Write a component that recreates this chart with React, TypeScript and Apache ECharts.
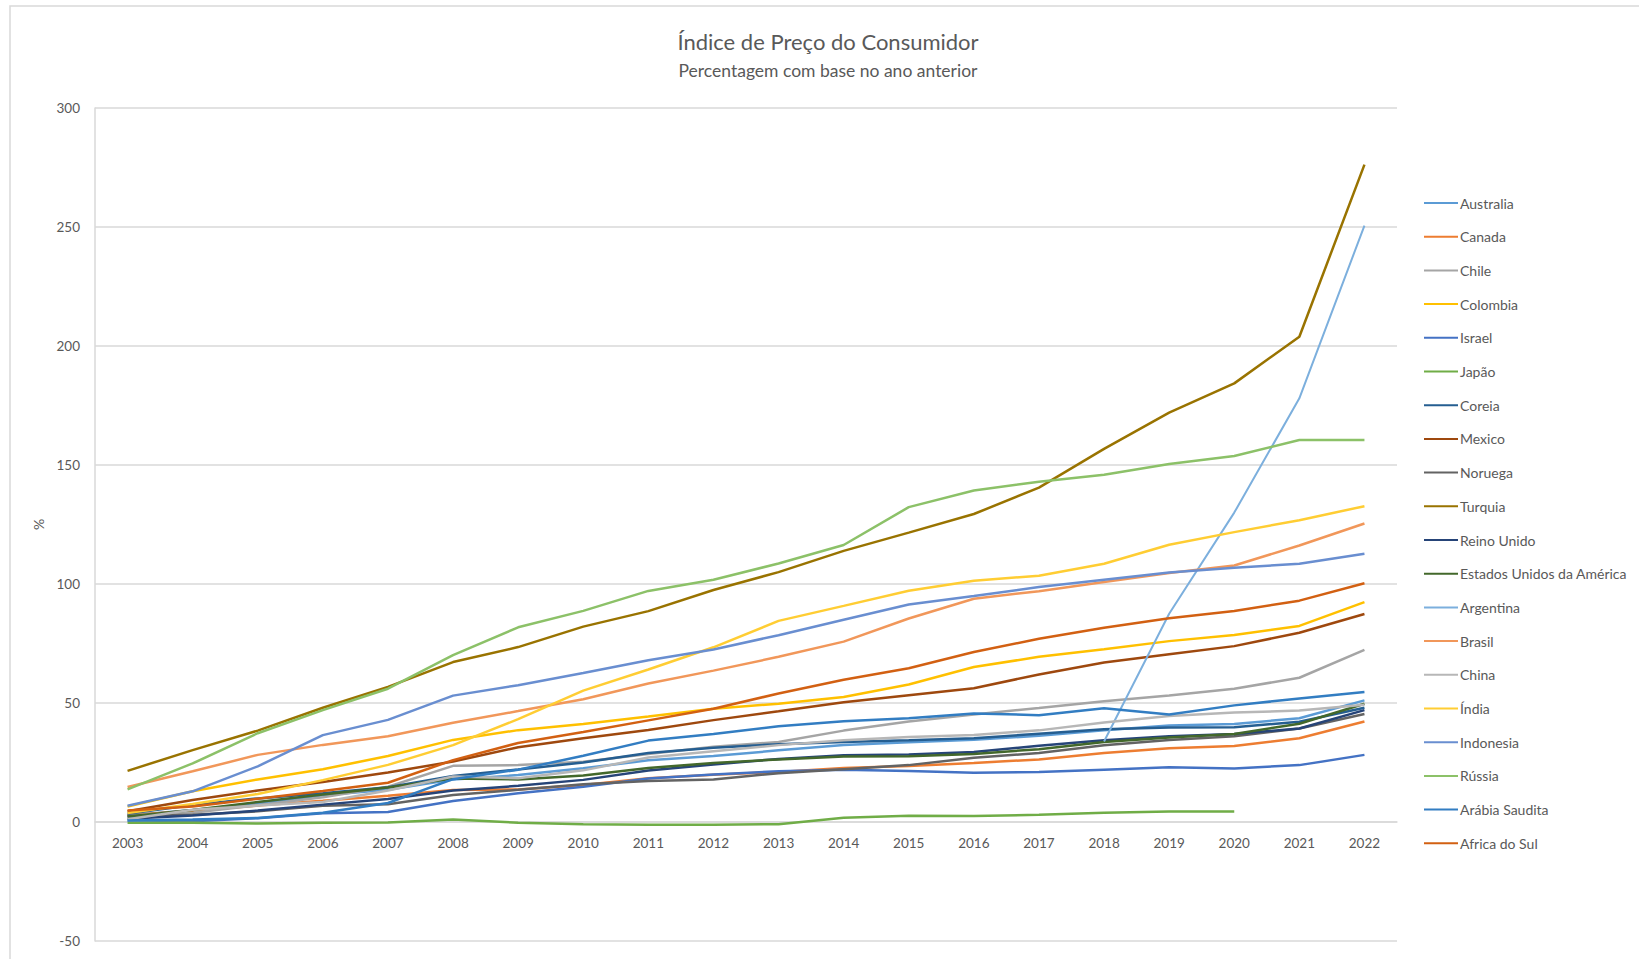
import React, { useEffect, useRef } from "react";
import * as echarts from "echarts";

// Years on the category axis
const years = [
  "2003", "2004", "2005", "2006", "2007", "2008", "2009", "2010", "2011", "2012",
  "2013", "2014", "2015", "2016", "2017", "2018", "2019", "2020", "2021", "2022",
];

// Cumulative consumer price change (%) per country
const australia = [2.7, 5, 7.7, 11.2, 13.5, 17.9, 19.7, 22.6, 25.9, 27.7, 30.1, 32.4, 33.5, 34.6, 36.2, 38.6, 40.5, 41.2, 43.6, 51.1];
const canada = [2.8, 4.7, 6.9, 8.9, 11, 13.4, 13.7, 15.5, 18.4, 19.9, 21, 22.7, 23.5, 24.8, 26.3, 29, 31, 31.9, 35.2, 42.2];
const chile = [2.8, 3.9, 7, 10.4, 14.8, 23.6, 23.9, 25.3, 28.6, 31.6, 33.6, 38.4, 42.2, 45.2, 47.9, 50.7, 53.2, 56, 60.6, 72.3];
const colombia = [6.5, 12.9, 17.9, 22.2, 27.7, 34.5, 38.6, 41.2, 44.3, 47.6, 49.7, 52.5, 57.8, 65.1, 69.4, 72.6, 76, 78.6, 82.4, 92.4];
const israel = [0.7, 0.3, 1.6, 3.7, 4.2, 8.8, 12.1, 14.8, 18.3, 20, 21.3, 22, 21.4, 20.7, 21, 22, 23, 22.5, 23.9, 28.2];
const japao = [-0.3, -0.3, -0.6, -0.3, -0.2, 1.1, -0.3, -0.9, -1.2, -1.2, -0.9, 1.8, 2.6, 2.5, 3, 3.9, 4.4, 4.4, null, null];
const coreia = [3.5, 7.1, 9.9, 12.1, 14.6, 19.3, 22.1, 25, 29, 31.2, 32.7, 33.6, 34.3, 35.2, 37.1, 39, 39.7, 39.8, 42.1, 48];
const mexico = [4.5, 9.2, 13.2, 16.8, 20.8, 25.4, 31.4, 35.2, 38.7, 42.8, 46.5, 50.3, 53.3, 56.2, 62, 67, 70.5, 73.9, 79.5, 87.4];
const noruega = [2.5, 3, 4.5, 6.8, 7.5, 11.3, 13.5, 15.9, 17.2, 17.9, 20.5, 22.2, 23.9, 27, 29, 32.2, 34.5, 36, 39.3, 45.4];
const turquia = [21.5, 30.2, 38.4, 48, 56.8, 67.2, 73.5, 82.1, 88.6, 97.5, 105, 113.9, 121.6, 129.4, 140.5, 156.8, 172, 184.3, 203.9, 276.2];
const reinoUnido = [1.4, 2.7, 4.8, 7.3, 9.7, 13.2, 15.2, 17.7, 21.6, 24.2, 26.5, 28, 28.4, 29.4, 32, 34.3, 36, 37, 39.3, 47];
const eua = [2.3, 5, 8.4, 11.6, 14.5, 18.3, 17.9, 19.5, 22.7, 24.8, 26.3, 27.5, 27.6, 28.6, 30.6, 33.6, 35.5, 37, 41.3, 49.7];
const argentina = [null, null, null, null, null, null, null, null, null, null, null, null, null, null, null, 33.8, 87.5, 130, 178, 250.6];
const brasil = [14.7, 21.3, 28.2, 32.4, 36, 41.7, 46.6, 51.6, 58.2, 63.6, 69.4, 75.8, 85.5, 93.8, 97, 100.8, 104.6, 107.8, 116.2, 125.4];
const china = [1.2, 5.1, 6.9, 8.4, 13.2, 19.1, 18.4, 21.7, 27.1, 29.7, 32.3, 34.3, 35.7, 36.6, 38.5, 41.8, 44.5, 46, 46.8, 49.3];
const india = [3.8, 7.6, 11.8, 17.6, 24, 32.3, 43.2, 55.2, 64.1, 73.4, 84.5, 90.8, 97.2, 101.4, 103.5, 108.5, 116.5, 121.8, 126.8, 132.7];
const indonesia = [6.8, 12.9, 23.4, 36.5, 42.9, 53.1, 57.5, 62.6, 68, 72.5, 78.5, 85, 91.4, 95, 98.7, 101.8, 104.8, 106.8, 108.5, 112.7];
const russia = [13.7, 24.6, 37.3, 47, 56, 70.1, 81.8, 88.7, 97.1, 101.8, 108.6, 116.4, 132.3, 139.3, 143, 145.9, 150.4, 153.8, 160.5, 160.5];
const arabiaSaudita = [0.6, 1, 1.7, 3.9, 8, 18, 22, 27.8, 34.2, 37, 40.2, 42.3, 43.6, 45.6, 44.9, 47.8, 45.2, 49, 51.9, 54.6];
const africaDoSul = [4.8, 6.5, 9.8, 13, 16.5, 26, 33.2, 37.8, 42.7, 47.6, 54, 59.8, 64.6, 71.4, 77, 81.6, 85.6, 88.7, 93, 100.3];

const countries = [
  "Australia", "Canada", "Chile", "Colombia", "Israel", "Japão", "Coreia", "Mexico",
  "Noruega", "Turquia", "Reino Unido", "Estados Unidos da América", "Argentina", "Brasil",
  "China", "Índia", "Indonesia", "Rússia", "Arábia Saudita", "Africa do Sul",
];
const values = [
  australia, canada, chile, colombia, israel, japao, coreia, mexico,
  noruega, turquia, reinoUnido, eua, argentina, brasil,
  china, india, indonesia, russia, arabiaSaudita, africaDoSul,
];
const colors = [
  "#5B9BD5", "#ED7D31", "#A5A5A5", "#FFC000", "#4472C4", "#70AD47", "#255E91", "#9E480E",
  "#636363", "#997300", "#264478", "#43682B", "#7CAFDD", "#F1975A",
  "#B7B7B7", "#FFCD33", "#698ED0", "#8CC168", "#327DC2", "#D26012",
];

const FONT = "Lato, 'Noto Sans', sans-serif";
const TEXT = "#595959";
const GRID = "#D9D9D9";

// Plot box (px) and y range
const PLOT_TOP = 108;
const PLOT_BOTTOM = 941;
const Y_MIN = -50;
const Y_MAX = 300;
// Distance from the plot's bottom edge up to the zero line, where the year labels sit
const ZERO_OFFSET = ((0 - Y_MIN) / (Y_MAX - Y_MIN)) * (PLOT_BOTTOM - PLOT_TOP);

export default function App() {
  const ref = useRef<HTMLDivElement>(null);

  useEffect(() => {
    if (!ref.current) return;
    const chart = echarts.init(ref.current, null, { renderer: "svg" });
    chart.setOption({
      animation: false,
      backgroundColor: "#ffffff",
      color: colors,
      textStyle: { fontFamily: FONT },
      graphic: [
        {
          type: "rect",
          silent: true,
          shape: { x: 10, y: 6, width: 1640, height: 980 },
          style: { fill: "none", stroke: GRID, lineWidth: 1.5 },
        },
        {
          type: "text",
          x: 828,
          y: 41,
          style: {
            text: "Índice de Preço do Consumidor",
            fill: TEXT,
            font: `22px ${FONT}`,
            align: "center",
            verticalAlign: "middle",
          },
        },
        {
          type: "text",
          x: 828,
          y: 70,
          style: {
            text: "Percentagem com base no ano anterior",
            fill: TEXT,
            font: `17.5px ${FONT}`,
            align: "center",
            verticalAlign: "middle",
          },
        },
      ],
      grid: {
        left: 95,
        right: 242,
        top: PLOT_TOP,
        bottom: 959 - PLOT_BOTTOM,
        containLabel: false,
        outerBoundsMode: "none",
      },
      legend: {
        orient: "vertical",
        left: 1419,
        top: 191,
        itemWidth: 34,
        itemHeight: 14,
        itemGap: 19.7,
        icon: "path://M0,6 L34,6 L34,8 L0,8 Z",
        textStyle: { color: TEXT, fontSize: 14, fontFamily: FONT, padding: [0, 0, 0, -3] },
        data: countries,
      },
      xAxis: {
        type: "category",
        data: years,
        boundaryGap: true,
        position: "bottom",
        offset: -ZERO_OFFSET,
        axisLine: { onZero: false, lineStyle: { color: GRID, width: 1.5 } },
        axisTick: { show: false },
        axisLabel: { color: TEXT, fontSize: 13.5, margin: 14 },
      },
      yAxis: {
        type: "value",
        min: Y_MIN,
        max: Y_MAX,
        interval: 50,
        name: "%",
        nameLocation: "middle",
        nameGap: 46,
        nameTextStyle: { color: TEXT, fontSize: 14 },
        axisLine: { show: true, lineStyle: { color: GRID, width: 1.5 } },
        axisTick: { show: false },
        axisLabel: { color: TEXT, fontSize: 13.5, margin: 15 },
        splitLine: { lineStyle: { color: GRID, width: 1.5 } },
      },
      series: countries.map((name, i) => ({
        name,
        type: "line",
        data: values[i],
        symbol: "none",
        connectNulls: false,
        lineStyle: { width: name === "Argentina" ? 2 : 2.5, color: colors[i] },
        itemStyle: { color: colors[i] },
      })),
    });
    return () => chart.dispose();
  }, []);

  return (
    <div
      ref={ref}
      style={{ position: "fixed", left: 0, top: 0, width: 1639, height: 959, background: "#fff" }}
    />
  );
}
